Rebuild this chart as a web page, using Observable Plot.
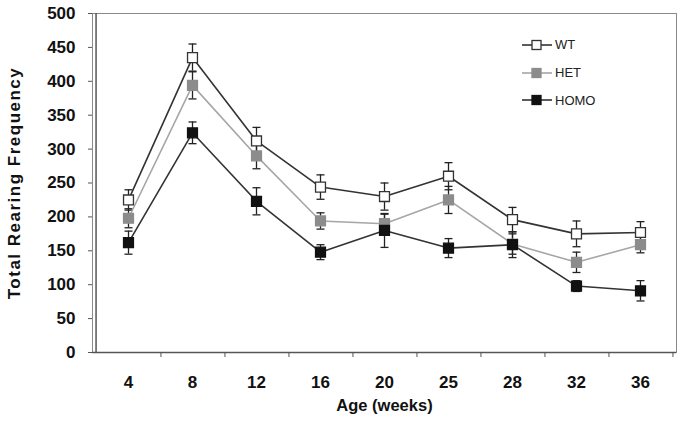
<!DOCTYPE html>
<html>
<head>
<meta charset="utf-8">
<script src="https://cdn.jsdelivr.net/npm/d3@7"></script>
<script src="https://cdn.jsdelivr.net/npm/@observablehq/plot@0.6"></script>
<style>
  html, body { margin: 0; padding: 0; background: #fff; }
  #wrap { position: relative; width: 683px; height: 427px; font-family: "Liberation Sans", Arial, sans-serif; }
  #legend { position: absolute; left: 522px; top: 31px; }
  .row { display: flex; align-items: center; height: 27.7px; font-size: 13px; color: #222; }
  .row svg { margin-right: 3px; }
</style>
</head>
<body>
<div id="wrap"><div id="legend"></div></div>
<script>
const categories = ["4", "8", "12", "16", "20", "25", "28", "32", "36"];
const yTicks = [0, 50, 100, 150, 200, 250, 300, 350, 400, 450, 500];

const wtValues   = [225, 435, 312, 244, 230, 260, 196, 175, 177];
const wtErrors   = [15, 20, 20, 18, 20, 20, 18, 19, 16];
const hetValues  = [198, 394, 290, 194, 190, 225, 160, 133, 159];
const hetErrors  = [14, 20, 19, 12, 14, 20, 15, 15, 12];
const homoValues = [162, 324, 223, 148, 180, 154, 159, 98, 91];
const homoErrors = [17, 16, 20, 11, 25, 14, 19, 8, 15];

const seriesNames = ["WT", "HET", "HOMO"];
const seriesStyle = {
  WT:   {line: "#333", fill: "#fff", stroke: "#333"},
  HET:  {line: "#a6a6a6", fill: "#8c8c8c", stroke: "#8c8c8c"},
  HOMO: {line: "#333", fill: "#111", stroke: "#111"}
};
const seriesData = {WT: [wtValues, wtErrors], HET: [hetValues, hetErrors], HOMO: [homoValues, homoErrors]};

const rows = [];
for (const s of seriesNames) {
  const [vals, errs] = seriesData[s];
  categories.forEach((c, i) => rows.push({series: s, age: c, value: vals[i], err: errs[i]}));
}

const W = 683, H = 427, mL = 92, mR = 7, mT = 13, mB = 75;
const step = (W - mL - mR) / categories.length;

const cap = {draw(ctx) { ctx.moveTo(-4, 0); ctx.lineTo(4, 0); }};
const bySeries = s => rows.filter(d => d.series === s);

const marks = [
  Plot.frame({stroke: "#8a8a8a"}),
  Plot.ruleX([categories[0]], {dx: -step / 2, stroke: "#555", strokeWidth: 1.5}),
  Plot.ruleY([0], {stroke: "#555", strokeWidth: 1.5}),
  Plot.axisY(yTicks, {tickSize: 4, tickPadding: 13, fontSize: 17, fontWeight: "bold", stroke: "#555", label: null}),
  Plot.axisX({tickSize: 0, tickPadding: 23, fontSize: 17, fontWeight: "bold", label: null}),
  Plot.axisX({tickSize: 5, tickFormat: () => "", dx: step / 2, stroke: "#555", label: null}),
  Plot.text(["Age (weeks)"], {frameAnchor: "bottom", textAnchor: "middle", dy: 58, fontSize: 16.5, fontWeight: "bold", fill: "#111"}),
  Plot.text(["Total Rearing Frequency"], {frameAnchor: "left", textAnchor: "middle", dx: -78, rotate: -90, fontSize: 17, fontWeight: "bold", fill: "#111"})
];
// error bars
for (const s of ["HET", "HOMO", "WT"]) {
  const d = bySeries(s);
  marks.push(Plot.ruleX(d, {x: "age", y1: r => r.value - r.err, y2: r => r.value + r.err, stroke: "#222", strokeWidth: 1.3}));
  marks.push(Plot.dot(d, {x: "age", y: r => r.value + r.err, symbol: cap, stroke: "#222", strokeWidth: 1.3}));
  marks.push(Plot.dot(d, {x: "age", y: r => r.value - r.err, symbol: cap, stroke: "#222", strokeWidth: 1.3}));
}
// lines
for (const s of ["HET", "HOMO", "WT"]) {
  marks.push(Plot.line(bySeries(s), {x: "age", y: "value", stroke: seriesStyle[s].line, strokeWidth: 1.6}));
}
// markers
for (const s of ["HET", "HOMO", "WT"]) {
  marks.push(Plot.dot(bySeries(s), {x: "age", y: "value", symbol: "square", r: 5.6, fill: seriesStyle[s].fill, stroke: seriesStyle[s].stroke, strokeWidth: 1.3}));
}

const chart = Plot.plot({
  width: W, height: H,
  marginLeft: mL, marginRight: mR, marginTop: mT, marginBottom: mB,
  x: {type: "point", domain: categories, padding: 0.5, axis: null},
  y: {domain: [0, 500], axis: null},
  style: {fontFamily: '"Liberation Sans", Arial, sans-serif', background: "#fff", color: "#111", overflow: "visible"},
  marks
});
for (const t of chart.querySelectorAll("text")) {
  if (t.textContent === "Total Rearing Frequency") t.style.letterSpacing = "1.5px";
}
const wrap = document.getElementById("wrap");
wrap.insertBefore(chart, wrap.firstChild);

// legend
const legend = document.getElementById("legend");
for (const s of seriesNames) {
  const st = seriesStyle[s];
  const row = document.createElement("div");
  row.className = "row";
  row.innerHTML = `<svg width="30" height="12"><line x1="0" y1="6" x2="30" y2="6" stroke="${st.line}" stroke-width="1.6"/><rect x="10" y="1.5" width="9" height="9" fill="${st.fill}" stroke="${st.stroke}" stroke-width="1.3"/></svg><span>${s}</span>`;
  legend.appendChild(row);
}
</script>
</body>
</html>
